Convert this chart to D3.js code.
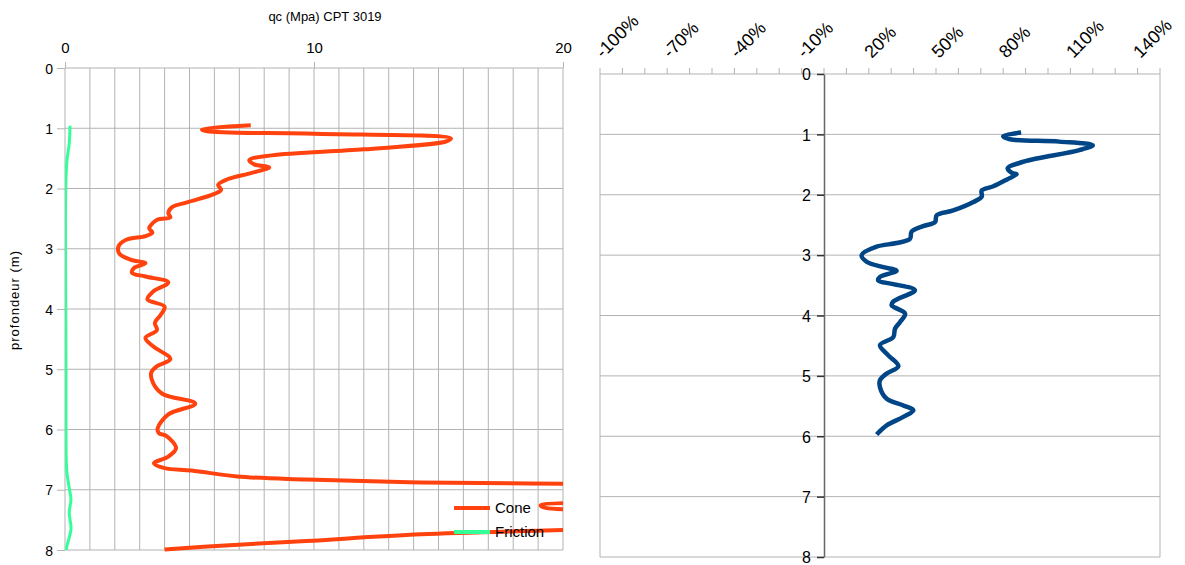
<!DOCTYPE html>
<html>
<head>
<meta charset="utf-8">
<script src="https://cdn.jsdelivr.net/npm/d3@7"></script>
<style>
    body { margin: 0; background: #fff; font-family: "Liberation Sans", Arial, sans-serif; }
    svg { display: block; }
    .grid line { stroke: #b3b3b3; stroke-width: 1; }
</style>
</head>
<body>
<div id="chart"></div>
<script>
// depth (m) and cone resistance qc (MPa)
const coneDepth = [0.95, 1.02, 1.05, 1.09, 1.17, 1.22, 1.35, 1.45, 1.53, 1.6, 1.65, 1.74, 1.85, 1.94, 2.02, 2.09,
    2.23, 2.31, 2.41, 2.48, 2.52, 2.66, 2.73, 2.79, 2.85, 2.96, 3.08, 3.18, 3.24, 3.32, 3.4, 3.46, 3.56, 3.71, 3.84,
    3.96, 4.1, 4.23, 4.35, 4.48, 4.62, 4.83, 4.95, 5.06, 5.23, 5.41, 5.57, 5.75, 5.98, 6.06, 6.11, 6.31, 6.45, 6.56,
    6.64, 6.68, 6.78, 6.83, 6.88, 6.9, 6.95, 7.05, 7.18, 7.26, 7.3, 7.36, 7.5, 7.62, 7.67, 7.74, 7.85, 7.92, 7.99];
const coneValue = [7.46, 5.5, 5.7, 10, 15.5, 15.3, 12, 8.3, 7.4, 7.6, 8.2, 7.5, 6.5, 6.15, 6.27, 6.0,
    4.9, 4.3, 4.15, 4.23, 3.7, 3.38, 3.51, 3.23, 2.46, 2.15, 2.18, 2.62, 3.23, 2.77, 2.69, 3.23, 4.15, 3.54, 3.31,
    4.0, 3.84, 3.61, 3.69, 3.23, 3.54, 4.23, 3.69, 3.46, 3.54, 3.92, 5.23, 4.15, 3.72, 3.77, 4.08, 4.46, 4.15, 3.57,
    4.0, 5.08, 6.92, 9.69, 14.3, 20, 26, 30, 25, 19.1, 19.3, 25, 28, 24, 20, 14.3, 9.7, 6.6, 4.0];

// depth (m) and sleeve friction
const frictionDepth = [0.96, 1.25, 1.53, 2.0, 3.0, 4.0, 5.0, 6.0, 6.5, 6.73, 7.04, 7.16, 7.38, 7.65, 7.93, 8.0];
const frictionValue = [0.2, 0.17, 0.08, 0.03, 0.02, 0.03, 0.04, 0.04, 0.05, 0.08, 0.2, 0.24, 0.17, 0.24, 0.08, 0.05];

// depth (m) and ratio (%)
const ratioDepth = [0.97, 1.03, 1.08, 1.12, 1.18, 1.26, 1.4, 1.47, 1.56, 1.64, 1.66, 1.75, 1.86, 1.93, 2.03, 2.12,
    2.26, 2.34, 2.45, 2.52, 2.61, 2.73, 2.8, 2.86, 3.0, 3.11, 3.2, 3.26, 3.36, 3.42, 3.48, 3.58, 3.77, 3.83, 3.97,
    4.11, 4.22, 4.36, 4.49, 4.66, 4.84, 4.96, 5.07, 5.19, 5.38, 5.49, 5.57, 5.68, 5.82, 5.97];
const ratioValue = [88, 80, 83, 105, 120, 114, 95, 87.5, 82, 84, 86, 81.5, 75.6, 70.4, 70.4, 66.7,
    57.7, 50.3, 49.6, 44.3, 39.1, 38.4, 32.4, 23.5, 16.8, 19, 26.5, 32.4, 25, 24.2, 30.9, 40.6, 30.9, 30.2, 36.2,
    33.9, 31.7, 30.9, 25, 28.7, 33.2, 28, 25, 25, 28, 35.4, 39.9, 35.4, 28, 23.5];

const depthTicks = [0, 1, 2, 3, 4, 5, 6, 7, 8];
const qcTickLabels = [0, 10, 20];
const ratioTickLabels = [-100, -70, -40, -10, 20, 50, 80, 110, 140];

const legendItems = ["Cone", "Friction"];
const colors = { Cone: "#ff420e", Friction: "#33ff99", ratio: "#004586" };

const svg = d3.select("#chart").append("svg")
    .attr("width", 1185)
    .attr("height", 565);

/* ---------- left chart : qc profile ---------- */
let left = { x: 65, y: 68, width: 498, height: 482 };

let xQc = d3.scaleLinear().domain([0, 20]).range([0, left.width]);
let yDepthL = d3.scaleLinear().domain([0, 8]).range([0, left.height]);

let gL = svg.append("g").attr("transform", `translate(${left.x},${left.y})`);

gL.append("defs").append("clipPath").attr("id", "clipL")
    .append("rect").attr("width", left.width).attr("height", left.height + 4).attr("y", -2);

// grid
gL.append("g").attr("class", "grid")
    .selectAll("line").data(d3.range(0, 21)).enter().append("line")
    .attr("x1", d => xQc(d)).attr("x2", d => xQc(d))
    .attr("y1", 0).attr("y2", left.height);
gL.append("g").attr("class", "grid")
    .selectAll("line").data(depthTicks).enter().append("line")
    .attr("x1", 0).attr("x2", left.width)
    .attr("y1", d => yDepthL(d)).attr("y2", d => yDepthL(d));

// top axis
let topAxis = d3.axisTop(xQc).tickValues(qcTickLabels).tickSize(6).tickSizeOuter(0);
let gTop = gL.append("g").call(topAxis);
gTop.select(".domain").remove();
gTop.selectAll("line").attr("stroke", "#b3b3b3");
gTop.selectAll("text").attr("font-size", 15).attr("fill", "#000").attr("y", -15)
    .attr("font-family", "Liberation Sans, Arial, sans-serif");

// left axis
let leftAxis = d3.axisLeft(yDepthL).tickValues(depthTicks).tickSize(8).tickSizeOuter(0).tickPadding(4);
let gLeft = gL.append("g").call(leftAxis);
gLeft.select(".domain").remove();
gLeft.selectAll("line").attr("stroke", "#b3b3b3");
gLeft.selectAll("text").attr("font-size", 14).attr("fill", "#000").attr("dy", "0.36em")
    .attr("font-family", "Liberation Sans, Arial, sans-serif");

// title and axis label
svg.append("text")
    .attr("x", 325).attr("y", 21)
    .attr("text-anchor", "middle")
    .attr("font-size", 13)
    .text("qc (Mpa) CPT 3019");

svg.append("text")
    .attr("transform", "translate(19,300) rotate(-90)")
    .attr("text-anchor", "middle")
    .attr("font-size", 13)
    .attr("letter-spacing", 1)
    .text("profondeur (m)");

// lines
let lineQc = d3.line()
    .x(d => xQc(d.v))
    .y(d => yDepthL(d.depth))
    .curve(d3.curveCatmullRom.alpha(0.5));

let coneData = coneDepth.map((d, i) => ({ depth: d, v: coneValue[i] }));
let frictionData = frictionDepth.map((d, i) => ({ depth: d, v: frictionValue[i] }));

let gLines = gL.append("g").attr("clip-path", "url(#clipL)");
gLines.append("path").datum(frictionData)
    .attr("d", lineQc)
    .attr("fill", "none")
    .attr("stroke", colors.Friction)
    .attr("stroke-width", 3);
gLines.append("path").datum(coneData)
    .attr("d", lineQc)
    .attr("fill", "none")
    .attr("stroke", colors.Cone)
    .attr("stroke-width", 4)
    .attr("stroke-linejoin", "round");

// legend
let legend = svg.append("g").attr("transform", "translate(454,508)");
legend.selectAll("g").data(legendItems).enter().append("g")
    .attr("transform", (d, i) => `translate(0,${i * 24})`)
    .each(function (d) {
        let g = d3.select(this);
        g.append("line").attr("x1", 0).attr("x2", 36).attr("y1", 0).attr("y2", 0)
            .attr("stroke", colors[d]).attr("stroke-width", 4);
        g.append("text").attr("x", 41).attr("y", 0).attr("dy", "0.36em")
            .attr("font-size", 15).text(d);
    });

/* ---------- right chart : ratio profile ---------- */
let right = { x: 600, y: 74, width: 560, height: 483 };

let xRatio = d3.scaleLinear().domain([-100, 150]).range([0, right.width]);
let yDepthR = d3.scaleLinear().domain([0, 8]).range([0, right.height]);

let gR = svg.append("g").attr("transform", `translate(${right.x},${right.y})`);

// horizontal grid + frame
gR.append("g").attr("class", "grid")
    .selectAll("line").data(depthTicks).enter().append("line")
    .attr("x1", 0).attr("x2", right.width)
    .attr("y1", d => yDepthR(d)).attr("y2", d => yDepthR(d));
gR.append("g").attr("class", "grid")
    .selectAll("line").data([-100, 150]).enter().append("line")
    .attr("x1", d => xRatio(d)).attr("x2", d => xRatio(d))
    .attr("y1", 0).attr("y2", right.height);

// top axis ticks every 10 %
gR.append("g").attr("class", "grid")
    .selectAll("line").data(d3.range(-100, 151, 10)).enter().append("line")
    .attr("x1", d => xRatio(d)).attr("x2", d => xRatio(d))
    .attr("y1", -6).attr("y2", 0);

gR.append("g").selectAll("text").data(ratioTickLabels).enter().append("text")
    .attr("transform", d => `translate(${xRatio(d) + 3},-15) rotate(-45)`)
    .attr("text-anchor", "start")
    .attr("font-size", 18)
    .text(d => d + "%");

// y axis at 0 %
let rightAxis = d3.axisLeft(yDepthR).tickValues(depthTicks).tickSize(7).tickSizeOuter(0).tickPadding(6);
let gAxisR = gR.append("g").attr("transform", `translate(${xRatio(0)},0)`).call(rightAxis);
gAxisR.select(".domain").attr("stroke", "#666").attr("stroke-width", 1.5);
gAxisR.selectAll(".tick line").attr("stroke", "#333").attr("stroke-width", 1.5);
gAxisR.selectAll("text").attr("font-size", 16).attr("fill", "#000").attr("dy", "0.36em")
    .attr("font-family", "Liberation Sans, Arial, sans-serif");

let lineRatio = d3.line()
    .x(d => xRatio(d.v))
    .y(d => yDepthR(d.depth))
    .curve(d3.curveCatmullRom.alpha(0.5));

let ratioData = ratioDepth.map((d, i) => ({ depth: d, v: ratioValue[i] }));

gR.append("path").datum(ratioData)
    .attr("d", lineRatio)
    .attr("fill", "none")
    .attr("stroke", colors.ratio)
    .attr("stroke-width", 4.5)
    .attr("stroke-linejoin", "round");
</script>
</body>
</html>
